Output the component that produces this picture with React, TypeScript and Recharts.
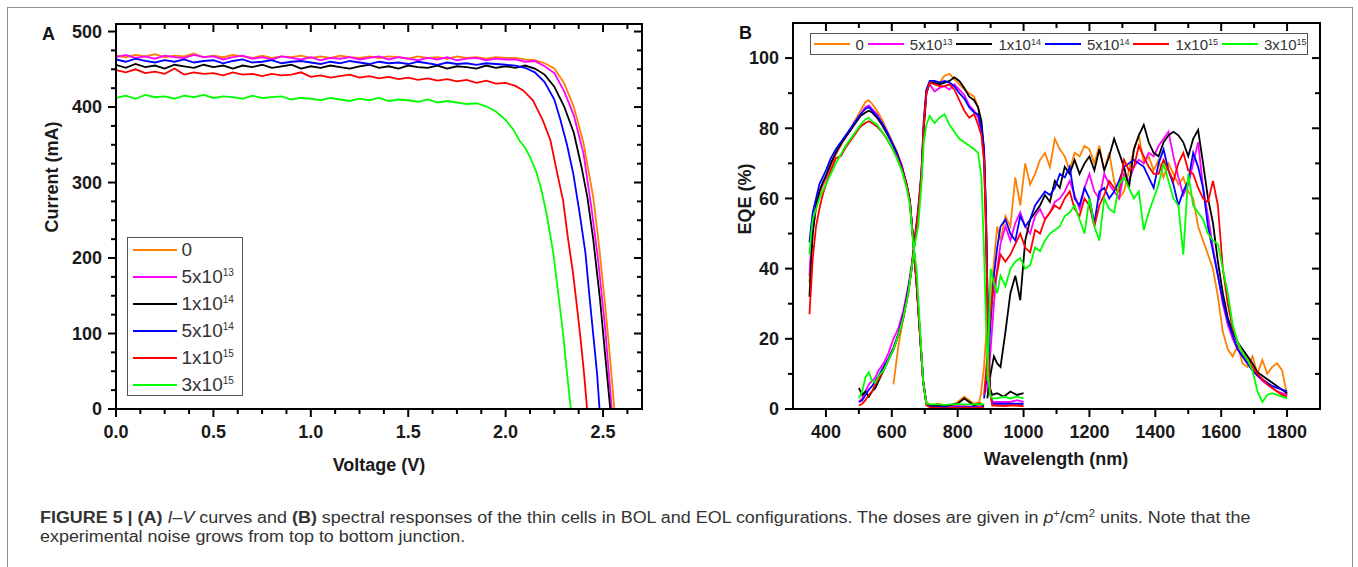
import React from 'react';
import { Line, LineChart, XAxis, YAxis } from 'recharts';

const FONT = '"Liberation Sans", Arial, Helvetica, sans-serif';

// doses, legend order (p+/cm2)
const doseBase = ['0', '5x10', '1x10', '5x10', '1x10', '3x10'];
const doseExp = ['', '13', '14', '14', '15', '15'];
const doseColors = ['#ff8000', '#ff00ff', '#000000', '#0000ff', '#ff0000', '#00ff00'];

// ---------- panel A: I-V curves ----------
const ivVolts = [
  0, 0.05, 0.1, 0.15, 0.2, 0.25, 0.3, 0.35, 0.4, 0.45,
  0.5, 0.55, 0.6, 0.65, 0.7, 0.75, 0.8, 0.85, 0.9, 0.95,
  1.0, 1.05, 1.1, 1.15, 1.2, 1.25, 1.3, 1.35, 1.4, 1.45,
  1.5, 1.55, 1.6, 1.65, 1.7, 1.75, 1.8, 1.85, 1.9, 1.95,
  2.0,
];
const ivFlat0 = [
  468, 466, 469, 467, 470, 466, 468, 467, 471, 466,
  468, 466, 469, 467, 465, 468, 465, 467, 466, 468,
  465, 467, 465, 468, 466, 465, 467, 465, 467, 466,
  464, 467, 465, 466, 464, 467, 465, 466, 464, 466,
  465,
];
const ivFlat5e13 = [
  466, 469, 465, 467, 464, 468, 466, 465, 469, 466,
  467, 463, 466, 468, 464, 466, 463, 467, 465, 463,
  466, 462, 465, 464, 466, 463, 465, 467, 463, 466,
  464, 462, 465, 463, 466, 462, 464, 465, 462, 464,
  463,
];
const ivFlat1e14 = [
  456, 452, 457, 453, 455, 451, 456, 454, 452, 456,
  453, 455, 451, 455, 453, 456, 452, 454, 456, 451,
  454, 452, 455, 453, 451, 454, 456, 452, 454, 451,
  455, 453, 452, 455, 451, 454, 453, 451, 455, 452,
  454,
];
const ivFlat5e14 = [
  463, 460, 464, 461, 459, 462, 460, 463, 459, 461,
  462, 458, 461, 463, 459, 460, 462, 458, 460, 461,
  459, 457, 460, 458, 461, 459, 457, 460, 458, 459,
  457, 460, 458, 456, 459, 457, 458, 456, 458, 457,
  456,
];
const ivFlat1e15 = [
  449, 446, 450, 445, 447, 444, 451, 443, 446, 444,
  445, 442, 446, 443, 444, 441, 444, 442, 443, 446,
  440, 442, 439, 441, 443, 439, 441, 438, 440, 437,
  439, 436, 438, 435, 437, 434, 436, 432, 435, 431,
  432,
];
const ivFlat3e15 = [
  412, 415, 411, 416, 413, 414, 411, 415, 413, 416,
  412, 414, 413, 411, 415, 412, 413, 414, 410, 412,
  411, 409, 412, 410, 408, 411, 409, 412, 408, 410,
  409, 407, 410, 406, 408, 406, 404, 405, 401, 394,
  383,
];
const ivKnee0: [number, number][] = [
  [2.05, 465], [2.1, 463], [2.15, 462], [2.2, 458], [2.25, 451], [2.3, 432], [2.35, 400],
  [2.4, 352], [2.45, 280], [2.48, 215], [2.51, 140], [2.53, 85], [2.55, 25], [2.558, 0],
];
const ivKnee5e13: [number, number][] = [
  [2.05, 463], [2.1, 460], [2.15, 461], [2.2, 454], [2.25, 445], [2.3, 421], [2.35, 389],
  [2.4, 338], [2.44, 267], [2.475, 197], [2.51, 109], [2.527, 56], [2.545, 0],
];
const ivKnee1e14: [number, number][] = [
  [2.05, 452], [2.1, 455], [2.15, 451], [2.2, 443], [2.25, 427], [2.3, 401], [2.35, 366],
  [2.39, 320], [2.42, 280], [2.45, 224], [2.485, 144], [2.51, 74], [2.537, 0],
];
const ivKnee5e14: [number, number][] = [
  [2.05, 455], [2.1, 452], [2.15, 446], [2.2, 433], [2.25, 410], [2.28, 384], [2.315, 350],
  [2.347, 312], [2.38, 259], [2.41, 206], [2.43, 150], [2.455, 85], [2.47, 45], [2.482, 0],
];
const ivKnee1e15: [number, number][] = [
  [2.05, 428], [2.09, 422], [2.14, 409], [2.19, 383], [2.23, 356], [2.26, 318], [2.295, 276],
  [2.32, 226], [2.346, 180], [2.37, 127], [2.39, 80], [2.405, 40], [2.418, 0],
];
const ivKnee3e15: [number, number][] = [
  [2.04, 370], [2.07, 356], [2.1, 346], [2.125, 334], [2.155, 316], [2.18, 294], [2.21, 259],
  [2.245, 206], [2.27, 153], [2.295, 100], [2.31, 60], [2.322, 30], [2.335, 0],
];

const ivXMajor = [0, 0.5, 1, 1.5, 2, 2.5];
const ivXMinor = [0.125, 0.25, 0.375, 0.625, 0.75, 0.875, 1.125, 1.25, 1.375, 1.625, 1.75, 1.875, 2.125, 2.25, 2.375, 2.625];
const ivYMajor = [0, 100, 200, 300, 400, 500];
const ivYMinor = [25, 50, 75, 125, 150, 175, 225, 250, 275, 325, 350, 375, 425, 450, 475];

// ---------- panel B: EQE ----------
const tjWl = [
  350, 355, 360, 370, 380, 390, 400, 415, 430, 445,
  460, 475, 490, 505, 520, 530, 540, 555, 570, 585,
  600, 615, 630, 645, 655, 665, 675, 685, 695, 705,
  720, 740, 760, 780, 800, 820, 835, 850, 865, 880,
];
const tj0 = [
  36, 45, 51, 57, 61, 63.5, 65.5, 69, 72.5, 75,
  77.5, 80, 82.5, 85, 87.5, 88, 87, 85, 82.5, 79.5,
  76.5, 73.5, 69.5, 64, 59, 48, 36, 22, 8, 2,
  1, 1.5, 1, 1, 2, 3.5, 2.5, 1.5, 2, 1,
];
const tj5e13 = [
  38, 46, 52, 58, 62, 64, 66, 70, 73, 75.5,
  77.5, 79.5, 82, 84, 86, 86.5, 85.5, 84, 81.5, 79,
  76, 73, 69.5, 64, 59.5, 48, 36, 22, 8, 1.5,
  0.8, 0.8, 0.7, 0.8, 0.9, 0.8, 0.7, 0.8, 0.8, 0.7,
];
const tj1e14 = [
  32, 42, 50, 58, 62, 64.5, 66.5, 70, 73, 75.5,
  77.5, 79.5, 81.5, 83.5, 84.5, 85, 84.5, 83, 81, 78.5,
  76, 73, 69, 64, 59, 48, 36, 22, 8, 1.5,
  1, 1, 0.8, 1.2, 1.5, 3, 2, 1, 1.5, 1,
];
const tj5e14 = [
  47.5, 52, 56, 60, 64, 66, 68, 71.5, 74, 76,
  78, 80, 82, 84, 85.5, 86, 85, 83.5, 81.5, 79,
  76, 73, 69, 64, 59, 48, 36, 22, 8, 1.5,
  0.5, 0.5, 0.5, 0.4, 0.5, 0.5, 0.5, 0.5, 0.4, 0.5,
];
const tj1e15 = [
  27, 35, 43, 52, 57, 61, 64, 68, 71.5, 72,
  74.5, 76.5, 78.5, 80.5, 81.5, 82, 81.5, 80.5, 79, 77,
  74.5, 72, 68.5, 64, 59, 48, 36, 22, 8, 1,
  0.3, 0.3, 0.2, 0.3, 0.3, 0.4, 0.3, 0.3, 0.3, 0.3,
];
const tj3e15 = [
  44, 50, 54, 57, 60, 62, 64, 67, 70, 72.5,
  75, 77, 79, 81, 82.5, 83, 82, 81, 79, 77,
  74.5, 71.5, 68, 63, 58, 47, 40, 24, 8, 1.5,
  1.3, 1.3, 1.2, 1.3, 1.4, 1.3, 1.3, 1.3, 1.4, 1.3,
];

const mjWl = [
  500, 510, 520, 530, 540, 550, 560, 575, 590, 605,
  620, 635, 650, 660, 670, 680, 690, 697, 705, 715,
  730, 745, 760, 775, 790, 805, 820, 835, 850, 862,
  872, 880, 886, 892, 898, 905, 920, 940, 960, 980,
  1000,
];
const mj0 = [
  null, null, null, null, null, null, null, null, null, 7,
  18, 26, 33, 40, 49, 57, 67, 80, 90, 93,
  93.5, 93, 95, 95.5, 94, 92.5, 91, 90, 89, 86,
  80, 70, 50, 22, 5, 2, 1, 1, 1.2, 1,
  1,
];
const mj5e13 = [
  2, 3, 5, 7, 8, 9, 11, 13, 16, 20,
  23, 28, 35, 41, 49, 57, 68, 82, 91, 92.5,
  90.5, 91.5, 92, 91, 92.5, 91, 89.5, 86.5, 85, 83,
  79, 72, 50, 20, 5, 2, 2, 2, 2, 2.5,
  2,
];
const mj1e14 = [
  6, 4, 5, 3.5, 5, 6, 8, 11, 14, 17,
  21, 26, 34, 40, 48, 56, 66, 80, 90, 93,
  93, 92.5, 93, 93.5, 94.5, 93.5, 91.5, 89, 88, 86,
  82, 74, 55, 25, 6, 4, 4.5, 3.5, 5, 4,
  4.5,
];
const mj5e14 = [
  2, 2.5, 4, 5.5, 6.5, 8, 9.5, 12, 14.5, 17.5,
  21.5, 27, 34, 40, 48, 56, 67, 82, 91, 93.5,
  93.5, 93, 93.5, 93, 92, 90, 88.5, 86, 84.5, 84,
  80, 74, 56, 24, 5, 1.5, 1.5, 1.5, 1.5, 1.5,
  1.5,
];
const mj1e15 = [
  1, 1.5, 2.5, 4, 5, 7, 8.5, 11, 14, 17,
  21, 26, 33, 40, 48, 56, 67, 81, 90, 93,
  92.5, 92, 92, 92.5, 91, 88, 85, 83, 84, 81,
  78, 71, 52, 20, 5, 1, 1, 0.8, 1, 1,
  0.8,
];
const mj3e15 = [
  3, 5, 9, 10.5, 8, 7.5, 9.5, 11, 14, 17,
  21, 26, 33, 40, 47, 52, 64, 76, 81, 83.5,
  81.5, 83, 84, 81, 79, 77, 76, 75, 74, 73,
  66, 45, 25, 10, 4, 3, 3, 3.5, 3, 3.5,
  3,
];

const bjWl = [
  860, 870, 880, 890, 900, 910, 920, 930, 945, 960,
  975, 990, 1005, 1020, 1035, 1050, 1065, 1080, 1095, 1110,
  1125, 1140, 1155, 1170, 1185, 1200, 1215, 1230, 1245, 1260,
  1275, 1290, 1305, 1320, 1335, 1350, 1365, 1380, 1395, 1410,
  1425, 1440, 1455, 1470, 1485, 1500, 1515, 1530, 1545, 1560,
  1575, 1590, 1605, 1620, 1635, 1650, 1665, 1680, 1695, 1710,
  1725, 1740, 1755, 1770, 1785, 1800,
];
const bj0 = [
  0, 4, 12, 26, 30, 42, 52, 48, 55, 52,
  66, 58, 70, 64, 67, 71, 73, 69, 77, 74,
  72, 68, 73, 72, 75, 74, 70, 75, 68, 73,
  65, 60, 62, 68, 74, 78, 70, 72, 68, 71,
  66, 70, 67, 64, 66, 62, 60, 52, 48, 44,
  40, 32, 22, 17, 15, 18, 13, 12, 15, 10,
  14, 10, 12, 13, 11, 4,
];
const bj5e13 = [
  null, null, null, 5, 17, 30, 40, 47, 52, 48,
  53, 56, 52, 50, 55, 57, 54, 56, 59, 60,
  62, 65, 61, 57, 63, 67, 62, 60, 67, 64,
  62, 60, 67, 65, 69, 71, 70, 73, 72, 75,
  77, 79, 72, 66, 61, 64, 70, 76, 63, 55,
  46, 38, 30, 24, 20, 17, 15, 13, 11, 9.5,
  8, 7, 6, 5, 4.5, 4,
];
const bj1e14 = [
  null, null, null, 3, 10, 15, 13, 12, 22, 33,
  38, 31, 48, 54, 56, 58, 61, 59, 65, 63,
  69, 67, 71, 67, 70, 72, 68, 74, 68, 72,
  77, 73, 69, 63, 74, 78, 81, 76, 73, 72,
  76, 78, 79, 78, 76, 72, 77, 79.5, 70, 60,
  53, 42, 33, 26, 22, 19, 17, 15, 13, 10.5,
  9.5, 8.5, 7.5, 6.5, 5.5, 4.5,
];
const bj5e14 = [
  null, null, 3, 10, 25, 38, 46, 52, 54, 50,
  48, 55, 52, 54, 58, 60, 62, 61, 63, 67,
  66, 69, 60, 58, 63, 60, 53, 62, 63, 60,
  62, 65, 69, 70, 71, 70, 69, 66, 63, 70,
  74, 68, 64, 58, 62, 65, 73, 69, 63, 52,
  45, 38, 31, 25, 21, 17, 15, 13, 11, 9.5,
  8.5, 7.5, 6.5, 6, 5.5, 5,
];
const bj1e15 = [
  null, null, 4, 15, 28, 35, 39, 44, 42, 44,
  47, 50, 46, 44.6, 51, 50, 54, 56, 58, 57,
  60, 62, 57, 55, 60, 58, 52, 58, 61, 65,
  63, 62, 71, 68, 69, 75, 72, 69, 67, 67,
  71, 68, 65, 70, 73, 68, 67, 63, 60, 59,
  65, 58, 40, 30, 23, 19, 16, 14, 12, 10,
  8.5, 7, 6, 5, 4, 3.5,
];
const bj3e15 = [
  null, null, null, 8, 40, 36, 33, 38, 35, 40,
  42, 43, 40, 41, 46, 45, 48, 50, 51, 52,
  55, 56, 58, 54, 50, 60, 52, 48, 60, 57,
  56, 64, 66, 63, 60, 62, 51, 56, 60, 64,
  70, 65, 60, 58, 44, 67, 58, 56, 54, 50,
  48, 47, 40, 33, 24, 19, 16, 14, 11, 5,
  2, 4, 4.5, 4, 3.5, 3,
];

const eqeXMajor = [400, 600, 800, 1000, 1200, 1400, 1600, 1800];
const eqeXMinor = [500, 700, 900, 1100, 1300, 1500, 1700];
const eqeYMajor = [0, 20, 40, 60, 80, 100];
const eqeYMinor = [10, 30, 50, 70, 90];

// ---------- assemble ----------
type Pt = { x: number; y: number | null };

const ivData: Pt[][] = [
  [ivFlat0, ivKnee0],
  [ivFlat5e13, ivKnee5e13],
  [ivFlat1e14, ivKnee1e14],
  [ivFlat5e14, ivKnee5e14],
  [ivFlat1e15, ivKnee1e15],
  [ivFlat3e15, ivKnee3e15],
].map(([flat, knee]) => [
  ...(flat as number[]).map((c, i) => ({ x: ivVolts[i], y: c })),
  ...(knee as [number, number][]).map(([v, c]) => ({ x: v, y: c })),
]);

const toRows = (wl: number[], vals: (number | null)[]): Pt[] => wl.map((w, i) => ({ x: w, y: vals[i] }));

// each dose has three junction curves (top, middle, bottom), drawn as separate lines
const eqeSegments: { color: string; data: Pt[] }[] = [];
[
  [tj0, mj0, bj0],
  [tj5e13, mj5e13, bj5e13],
  [tj1e14, mj1e14, bj1e14],
  [tj5e14, mj5e14, bj5e14],
  [tj1e15, mj1e15, bj1e15],
  [tj3e15, mj3e15, bj3e15],
].forEach(([tj, mj, bj], s) => {
  eqeSegments.push({ color: doseColors[s], data: toRows(tjWl, tj) });
  eqeSegments.push({ color: doseColors[s], data: toRows(mjWl, mj) });
  eqeSegments.push({ color: doseColors[s], data: toRows(bjWl, bj) });
});

// ---------- ticks ----------
type Side = 'bottom' | 'left' | 'top' | 'right';

const tickText: React.CSSProperties = { fontFamily: FONT, fontWeight: 700, fontSize: 18, fill: '#1a1a1a' };
const axisLine = { stroke: '#000', strokeWidth: 2, strokeLinecap: 'square' as const };

// custom tick: major/minor tick marks (out on bottom/left, in on top/right) + labels
const makeTick = (side: Side, majors: number[], fmt?: (v: number) => string) => (props: any) => {
  const { x = 0, y = 0, payload } = props;
  const v: number = payload?.value ?? 0;
  const major = majors.includes(v);
  const len = major ? 8 : 5;
  let line;
  if (side === 'bottom' || side === 'top') line = <line x1={x} y1={y} x2={x} y2={y + len} />;
  else line = <line x1={x} y1={y} x2={x - len} y2={y} />;
  return (
    <g>
      <g stroke="#000" strokeWidth={2}>{line}</g>
      {major && fmt && side === 'bottom' && (
        <text x={x} y={y + 16} dy="0.71em" textAnchor="middle" style={tickText}>
          {fmt(v)}
        </text>
      )}
      {major && fmt && side === 'left' && (
        <text x={x - 14} y={y} dy="0.355em" textAnchor="end" style={tickText}>
          {fmt(v)}
        </text>
      )}
    </g>
  );
};

const sortTicks = (a: number[], b: number[]) => [...a, ...b].sort((p, q) => p - q);

// plot box: l/t/r/b are the pixel offsets of the plot area inside the chart
function Frame({
  width, height, l, t, r, b, xDomain, yDomain, xMajor, xMinor, yMajor, yMinor, xFmt, yFmt, children,
}: any) {
  const xt = sortTicks(xMajor, xMinor);
  const yt = sortTicks(yMajor, yMinor);
  const common = { tickLine: false, tickSize: 0, tickMargin: 0, interval: 0 as const, axisLine, allowDataOverflow: true };
  return (
    <LineChart width={width} height={height} margin={{ top: 0, right: 0, bottom: 0, left: 0 }}>
      <XAxis xAxisId="b" dataKey="x" type="number" domain={xDomain} ticks={xt} height={b}
        tick={makeTick('bottom', xMajor, xFmt)} {...common} />
      <XAxis xAxisId="t" orientation="top" dataKey="x" type="number" domain={xDomain} ticks={xt} height={t}
        tick={makeTick('top', xMajor)} {...common} />
      <YAxis yAxisId="l" type="number" domain={yDomain} ticks={yt} width={l}
        tick={makeTick('left', yMajor, yFmt)} {...common} />
      <YAxis yAxisId="r" orientation="right" type="number" domain={yDomain} ticks={yt} width={r}
        tick={makeTick('right', yMajor)} {...common} />
      {children}
    </LineChart>
  );
}

const Dose = ({ i, size, supSize, lift }: { i: number; size: number; supSize: number; lift: number }) => (
  <span style={{ fontSize: size, whiteSpace: 'nowrap' }}>
    {doseBase[i]}
    {doseExp[i] && (
      <span style={{ fontSize: supSize, position: 'relative', top: -lift }}>{doseExp[i]}</span>
    )}
  </span>
);

const abs = (s: React.CSSProperties): React.CSSProperties => ({ position: 'absolute', ...s });
const title: React.CSSProperties = { fontSize: 18, fontWeight: 700, lineHeight: 1, whiteSpace: 'nowrap', color: '#1a1a1a' };

export default function App() {
  return (
    <div style={abs({ left: 0, top: 0, width: 1358, height: 567, overflow: 'hidden', background: '#fff', fontFamily: FONT })}>
      <div style={abs({ left: 7, top: 7, width: 1346, height: 600, border: '1px solid #8c8c8c', boxSizing: 'border-box' })} />

      {/* panel A */}
      <div style={abs({ left: 0, top: 0 })}>
        <Frame
          width={680} height={480} l={116} t={24} r={38} b={71}
          xDomain={[0, 2.7]} yDomain={[0, 510]}
          xMajor={ivXMajor} xMinor={ivXMinor} yMajor={ivYMajor} yMinor={ivYMinor}
          xFmt={(v: number) => v.toFixed(1)} yFmt={(v: number) => String(v)}
        >
          {ivData.map((d, s) => (
            <Line key={s} xAxisId="b" yAxisId="l" data={d} dataKey="y" type="linear" stroke={doseColors[s]}
              strokeWidth={1.8} dot={false} activeDot={false} isAnimationActive={false} />
          ))}
        </Frame>
      </div>

      {/* panel B */}
      <div style={abs({ left: 700, top: 0 })}>
        <Frame
          width={658} height={480} l={93} t={23} r={38} b={71}
          xDomain={[300, 1900]} yDomain={[0, 110]}
          xMajor={eqeXMajor} xMinor={eqeXMinor} yMajor={eqeYMajor} yMinor={eqeYMinor}
          xFmt={(v: number) => String(v)} yFmt={(v: number) => String(v)}
        >
          {eqeSegments.map((seg, k) => (
            <Line key={k} xAxisId="b" yAxisId="l" data={seg.data} dataKey="y" type="linear" stroke={seg.color}
              strokeWidth={1.8} dot={false} activeDot={false} connectNulls={false} isAnimationActive={false} />
          ))}
        </Frame>
      </div>

      {/* panel letters and axis titles */}
      <div style={abs({ left: 42, top: 25, fontSize: 18, fontWeight: 700, lineHeight: 1, color: '#111' })}>A</div>
      <div style={abs({ left: 739, top: 24, fontSize: 18, fontWeight: 700, lineHeight: 1, color: '#111' })}>B</div>
      <div style={abs({ left: 52, top: 177, transform: 'translate(-50%, -50%) rotate(-90deg)', ...title })}>Current (mA)</div>
      <div style={abs({ left: 379, top: 465, transform: 'translate(-50%, -50%)', ...title })}>Voltage (V)</div>
      <div style={abs({ left: 745, top: 199, transform: 'translate(-50%, -50%) rotate(-90deg)', ...title })}>EQE (%)</div>
      <div style={abs({ left: 1056, top: 459, transform: 'translate(-50%, -50%)', ...title })}>Wavelength (nm)</div>

      {/* legend A */}
      <div style={abs({ left: 127, top: 237, width: 116, height: 159, border: '1.5px solid #555', boxSizing: 'border-box', background: '#fff' })}>
        {doseColors.map((c, i) => (
          <div key={i} style={abs({ left: 0, top: -2 + 27 * i, height: 27, width: 113, color: '#333' })}>
            <div style={abs({ left: 4.5, top: 12.5, width: 44, height: 2, background: c })} />
            <div style={abs({ left: 53.5, top: 0, lineHeight: '27px' })}>
              <Dose i={i} size={19} supSize={10} lift={7} />
            </div>
          </div>
        ))}
      </div>

      {/* legend B */}
      <div style={abs({ left: 810, top: 33, width: 498, height: 22, border: '1.5px solid #555', boxSizing: 'border-box', background: '#fff', display: 'flex', alignItems: 'center', paddingLeft: 2.5, color: '#333' })}>
        {doseColors.map((c, i) => (
          <div key={i} style={{ display: 'flex', alignItems: 'center', marginRight: 4 }}>
            <div style={{ width: 36, height: 2, background: c, marginRight: 6 }} />
            <Dose i={i} size={15} supSize={9} lift={5} />
          </div>
        ))}
      </div>

      {/* caption */}
      <div style={abs({ left: 40, top: 508, fontSize: 16, lineHeight: '19px', color: '#333', whiteSpace: 'nowrap', transform: 'scaleX(1.12)', transformOrigin: 'left top' })}>
        <b>FIGURE 5 | (A)</b> <i>I–V</i> curves and <b>(B)</b> spectral responses of the thin cells in BOL and EOL configurations. The doses are given in <i>p</i>
        <sup style={{ fontSize: 10, lineHeight: 0 }}>+</sup>/cm<sup style={{ fontSize: 10, lineHeight: 0 }}>2</sup> units. Note that the
        <br />
        experimental noise grows from top to bottom junction.
      </div>
    </div>
  );
}
